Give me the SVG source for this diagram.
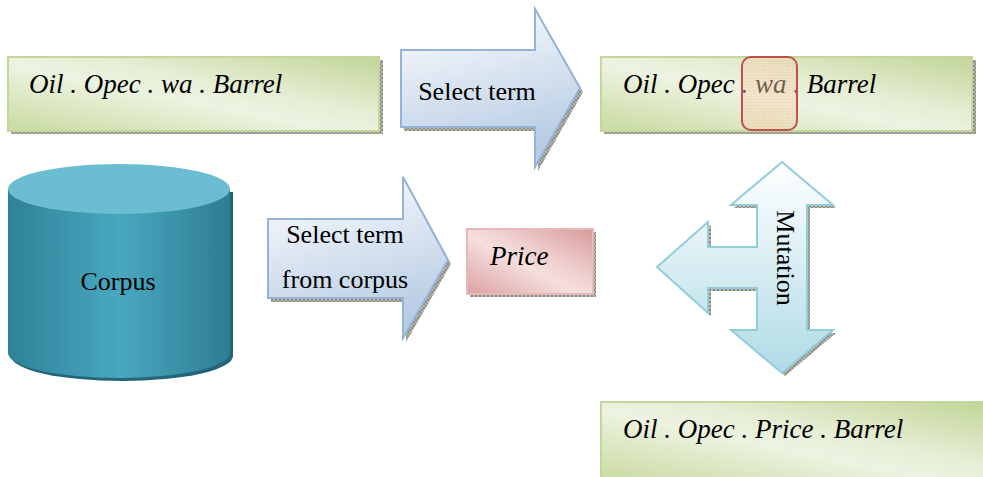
<svg xmlns="http://www.w3.org/2000/svg" width="983" height="477" viewBox="0 0 983 477">
<defs>
<linearGradient id="gGreen" x1="0" y1="1" x2="1" y2="0">
<stop offset="0" stop-color="#c8da9f"/>
<stop offset="0.45" stop-color="#edf3e1"/>
<stop offset="0.6" stop-color="#e6eed6"/>
<stop offset="1" stop-color="#c2d597"/>
</linearGradient>
<linearGradient id="gBlue" x1="0" y1="0" x2="0.3" y2="1">
<stop offset="0" stop-color="#ffffff"/>
<stop offset="1" stop-color="#b8cce4"/>
</linearGradient>
<linearGradient id="gCyan" x1="0" y1="0" x2="0" y2="1">
<stop offset="0" stop-color="#ffffff"/>
<stop offset="1" stop-color="#b0dbe6"/>
</linearGradient>
<linearGradient id="gPink" x1="0" y1="1" x2="1" y2="0">
<stop offset="0" stop-color="#dda0a0"/>
<stop offset="0.45" stop-color="#f5dfdf"/>
<stop offset="0.6" stop-color="#f0d0d0"/>
<stop offset="1" stop-color="#d99a9a"/>
</linearGradient>
<linearGradient id="gCyl" x1="0" y1="0" x2="1" y2="0">
<stop offset="0" stop-color="#2f8197"/>
<stop offset="0.5" stop-color="#48a8c0"/>
<stop offset="1" stop-color="#2e7d93"/>
</linearGradient>
<pattern id="hatch" width="4" height="4" patternUnits="userSpaceOnUse">
<rect width="4" height="4" fill="#b8b8b0"/>
<path d="M0 0L4 4M4 0L0 4" stroke="#7d7d70" stroke-width="0.8"/>
</pattern>
<pattern id="grid" width="3" height="3" patternUnits="userSpaceOnUse">
<rect width="3" height="3" fill="#fbd9bc"/>
<path d="M0 0.5H3M0.5 0V3" stroke="#f3c39c" stroke-width="0.8"/>
</pattern>
</defs>
<style>
.box{fill:url(#gGreen);stroke:#c3d69b;stroke-width:2}
.shadow{fill:url(#hatch)}
.arrowB{fill:url(#gBlue);stroke:#95b3d7;stroke-width:2;stroke-linejoin:miter}
.t{font-family:"Liberation Serif","Times New Roman",serif;font-size:26px;fill:#000}
.it{font-style:italic;font-size:27px}
</style>

<g id="box-top-left">
<rect class="shadow" x="11" y="60" width="372" height="74"/>
<rect class="box" x="8" y="57" width="371" height="74"/>
<text class="t it" x="29" y="93">Oil . Opec . wa . Barrel</text>
</g>

<g id="arrow-select-term">
<polygon class="shadow" points="404,54 538,54 538,13 583,92 538,171 538,131 404,131"/>
<polygon class="arrowB" points="401,50 535,50 535,9 580,88 535,167 535,127 401,127"/>
<text class="t" x="477" y="100" text-anchor="middle">Select term</text>
</g>

<g id="box-top-right">
<rect class="shadow" x="604" y="60" width="372" height="74"/>
<rect class="box" x="601" y="57" width="371" height="74"/>
<text class="t it" x="623" y="93">Oil . Opec . wa . Barrel</text>
<rect x="742" y="57" width="55" height="73" rx="9" fill="url(#grid)" fill-opacity="0.45" stroke="#c0504d" stroke-width="2"/>
</g>

<g id="corpus">
<path d="M9,190 V354 A111,25 0 0 0 231,354 V190 Z" fill="#23667a" transform="translate(2,2)"/>
<path d="M8,189 V353 A111,25 0 0 0 230,353 V189 Z" fill="url(#gCyl)"/>
<ellipse cx="119" cy="189" rx="111" ry="25" fill="#6cbdd1"/>
<text class="t" x="118" y="290" text-anchor="middle">Corpus</text>
</g>

<g id="arrow-select-corpus">
<polygon class="shadow" points="271,223 406,223 406,181 451,264 406,342 406,302 271,302"/>
<polygon class="arrowB" points="268,219 403,219 403,177 448,260 403,338 403,298 268,298"/>
<text class="t" x="345" y="243" text-anchor="middle">Select term</text>
<text class="t" x="345" y="288" text-anchor="middle">from corpus</text>
</g>

<g id="price">
<rect class="shadow" x="470" y="232" width="126" height="65"/>
<rect x="467" y="229" width="126" height="65" fill="url(#gPink)" stroke="#e6b9b8" stroke-width="2"/>
<text class="t it" x="490" y="265">Price</text>
</g>

<g id="mutation">
<polygon class="shadow" points="785,165 836,208 810,208 810,333 836,333 785,376 734,333 760,333 760,291 711,291 711,316 660,270 711,225 711,250 760,250 760,208 734,208"/>
<polygon points="782,162 833,205 807,205 807,330 833,330 782,373 731,330 757,330 757,288 708,288 708,313 657,267 708,222 708,247 757,247 757,205 731,205" fill="url(#gCyan)" stroke="#92cddc" stroke-width="2"/>
<text class="t" transform="translate(777,258) rotate(90)" text-anchor="middle">Mutation</text>
</g>

<g id="box-bottom">
<rect class="box" x="601" y="402" width="385" height="80"/>
<text class="t it" x="623" y="438">Oil . Opec . Price . Barrel</text>
</g>

<g id="connectors"></g>
</svg>
